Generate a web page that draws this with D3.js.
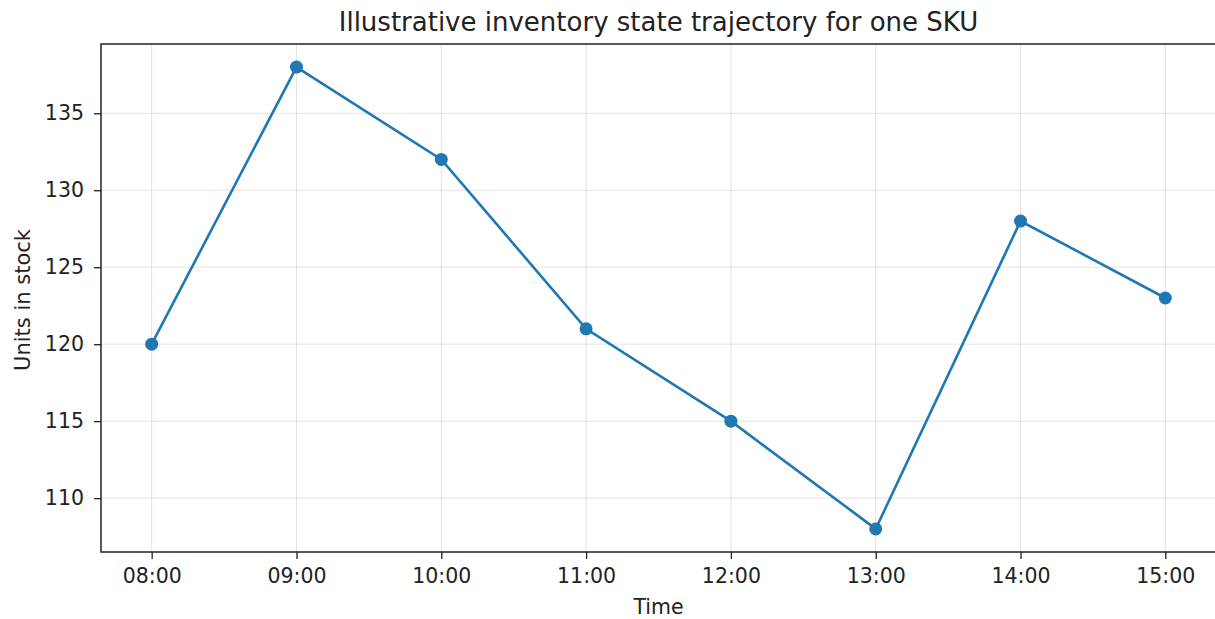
<!DOCTYPE html>
<html><head><meta charset="utf-8">
<script src="https://cdn.jsdelivr.net/npm/d3@7"></script>
<style>body{margin:0;background:#fff}svg{display:block}text{font-family:"DejaVu Sans",sans-serif;fill:#222}</style>
</head><body><svg id="c" width="1215" height="619"></svg>
<script>
const times = ["08:00","09:00","10:00","11:00","12:00","13:00","14:00","15:00"];
const units = [120,138,132,121,115,108,128,123];
const yTicks = [110,115,120,125,130,135];

const svg = d3.select("#c");
const L=101, R=1216, T=44, B=552;
const n = times.length;
const x = d3.scaleLinear().domain([-0.35, n-1+0.35]).range([L,R]);
const ymin=d3.min(units), ymax=d3.max(units), pad=(ymax-ymin)*0.05;
const y = d3.scaleLinear().domain([ymin-pad, ymax+pad]).range([B,T]);

// grid
const g = svg.append("g");
g.selectAll(".gx").data(times).enter().append("line")
 .attr("x1",(d,i)=>x(i)).attr("x2",(d,i)=>x(i)).attr("y1",T).attr("y2",B)
 .attr("stroke","#b0b0b0").attr("stroke-opacity",0.35).attr("stroke-width",1);
g.selectAll(".gy").data(yTicks).enter().append("line")
 .attr("y1",d=>y(d)).attr("y2",d=>y(d)).attr("x1",L).attr("x2",R)
 .attr("stroke","#b0b0b0").attr("stroke-opacity",0.35).attr("stroke-width",1);

// axes
const xa = svg.append("g").attr("transform",`translate(0,${B})`)
 .call(d3.axisBottom(x).tickValues(d3.range(n)).tickFormat(i=>times[i]).tickSize(7).tickPadding(9));
const ya = svg.append("g").attr("transform",`translate(${L},0)`)
 .call(d3.axisLeft(y).tickValues(yTicks).tickSize(7).tickPadding(10));
[xa,ya].forEach(a=>{a.select(".domain").remove();a.selectAll("text").style("font-size","20.5px").attr("fill","#222");a.selectAll("line").attr("stroke","#222").attr("stroke-width",1.3)});

// spines
svg.append("rect").attr("x",L).attr("y",T).attr("width",R-L).attr("height",B-T)
 .attr("fill","none").attr("stroke","#222").attr("stroke-width",1.5);

// line
svg.append("path").datum(units)
 .attr("d",d3.line().x((d,i)=>x(i)).y(d=>y(d)))
 .attr("fill","none").attr("stroke","#1f77b4").attr("stroke-width",2.6);
svg.selectAll(".pt").data(units).enter().append("circle")
 .attr("cx",(d,i)=>x(i)).attr("cy",d=>y(d)).attr("r",6.5).attr("fill","#1f77b4");

// labels
svg.append("text").attr("x",(L+R)/2).attr("y",31).attr("text-anchor","middle")
 .style("font-size","26px").text("Illustrative inventory state trajectory for one SKU");
svg.append("text").attr("x",(L+R)/2).attr("y",614).attr("text-anchor","middle")
 .style("font-size","20.5px").text("Time");
svg.append("text").attr("transform",`translate(30,${(T+B)/2+2}) rotate(-90)`).attr("text-anchor","middle")
 .style("font-size","21px").text("Units in stock");
</script></body></html>
